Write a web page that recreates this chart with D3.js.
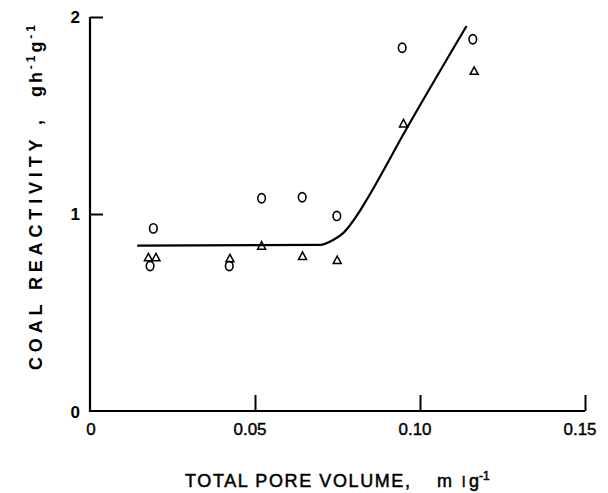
<!DOCTYPE html>
<html><head><meta charset="utf-8">
<script src="https://cdn.jsdelivr.net/npm/d3@7"></script>
<style>body{margin:0;background:#fff}svg{display:block}</style>
</head><body>
<script>
const xTicks = [0, 0.05, 0.10, 0.15];
const xTickLabels = ["0", "0.05", "0.10", "0.15"];
const yTicks = [0, 1, 2];
const yTickLabels = ["0", "1", "2"];
const circleX = [0.0192, 0.0182, 0.0422, 0.0520, 0.0643, 0.0748, 0.0946, 0.1160];
const circleY = [0.927, 0.736, 0.736, 1.080, 1.085, 0.990, 1.844, 1.887];
const triX = [0.0177, 0.0200, 0.0424, 0.0520, 0.0644, 0.0749, 0.0950, 0.1164];
const triY = [0.780, 0.780, 0.775, 0.839, 0.787, 0.766, 1.460, 1.727];
const fitX = [0.0143, 0.0697, 0.0737, 0.0768, 0.0813, 0.0838, 0.0960, 0.1141];
const fitY = [0.839, 0.843, 0.868, 0.904, 1.003, 1.071, 1.435, 1.954];

const W = 608, H = 493;
const svg = d3.select("body").append("svg").attr("width", W).attr("height", H);
const x = d3.scaleLinear().domain([0, 0.15]).range([90, 585]);
const y = d3.scaleLinear().domain([0, 2]).range([411, 17]);
const font = "Liberation Sans, Arial, sans-serif";

// axes
const xAxis = svg.append("g").attr("transform", `translate(0,${y(0)})`)
  .call(d3.axisBottom(x).tickValues(xTicks.slice(1)).tickSize(-16).tickFormat(""));
const yAxis = svg.append("g").attr("transform", `translate(${x(0)},0)`)
  .call(d3.axisLeft(y).tickValues(yTicks.slice(1)).tickSize(-13).tickFormat(""));
[xAxis, yAxis].forEach(a => {
  a.select(".domain").remove();
  a.selectAll("line").attr("stroke", "#000").attr("stroke-width", 2);
});
svg.append("path")
  .attr("d", `M${x(0)},${y(2)}V${y(0)}H${x(0.15)}`)
  .attr("fill", "none").attr("stroke", "#000").attr("stroke-width", 2.2);

// tick labels
svg.append("g").selectAll("text").data(xTicks).join("text")
  .attr("x", (d, i) => x(d) - (i === 0 ? -1 : 5)).attr("y", 435)
  .attr("text-anchor", "middle").attr("font-family", font).attr("font-size", 17)
  .attr("stroke", "#000").attr("stroke-width", 0.4)
  .text((d, i) => xTickLabels[i]);
svg.append("g").selectAll("text").data(yTicks).join("text")
  .attr("x", 80).attr("y", d => y(d) + 6 + (d === 0 ? 1 : 0))
  .attr("text-anchor", "end").attr("font-family", font).attr("font-size", 17).attr("font-weight", "bold")
  .text((d, i) => yTickLabels[i]);

// x title
const xs = { "font-family": font, "stroke": "#000", "stroke-width": 0.5 };
function st(sel) { Object.entries(xs).forEach(([k, v]) => sel.attr(k, v)); return sel; }
st(svg.append("text")).attr("x", 185).attr("y", 487).attr("font-size", 18)
  .attr("textLength", 225).attr("lengthAdjust", "spacing").text("TOTAL PORE VOLUME,");
const xu = st(svg.append("text")).attr("x", 437).attr("y", 487).attr("font-size", 18);
xu.append("tspan").text("m");
xu.append("tspan").attr("x", 462).attr("font-size", 15).text("l");
xu.append("tspan").attr("x", 469).text("g");
xu.append("tspan").attr("dy", -7).attr("font-size", 12).text("-1");

// y title
svg.append("text").attr("transform", "translate(42,370) rotate(-90)")
  .attr("font-family", font).attr("font-size", 18).attr("font-weight", "bold")
  .attr("textLength", 250).attr("lengthAdjust", "spacing").text("COAL REACTIVITY ,");
const yu = svg.append("text").attr("transform", "translate(42,97) rotate(-90)")
  .attr("font-family", font).attr("font-size", 18).attr("font-weight", "bold")
  .attr("textLength", 72).attr("lengthAdjust", "spacing");
yu.append("tspan").text("gh");
yu.append("tspan").attr("dy", -7).attr("font-size", 12).text("-1");
yu.append("tspan").attr("dy", 7).attr("font-size", 18).text("g");
yu.append("tspan").attr("dy", -7).attr("font-size", 12).text("-1");

// fit curve
const pts = fitX.map((v, i) => [v, fitY[i]]);
svg.append("path").datum(pts)
  .attr("d", d3.line().x(d => x(d[0])).y(d => y(d[1])).curve(d3.curveMonotoneX))
  .attr("fill", "none").attr("stroke", "#000").attr("stroke-width", 2.2);

// circles
svg.append("g").selectAll("ellipse").data(circleX.map((v, i) => [v, circleY[i]])).join("ellipse")
  .attr("cx", d => x(d[0])).attr("cy", d => y(d[1])).attr("rx", 3.8).attr("ry", 4.6)
  .attr("fill", "none").attr("stroke", "#000").attr("stroke-width", 1.6);

// triangles
svg.append("g").selectAll("path").data(triX.map((v, i) => [v, triY[i]])).join("path")
  .attr("transform", d => `translate(${x(d[0])},${y(d[1])})`)
  .attr("d", "M0,-4L4,3.5H-4Z")
  .attr("fill", "none").attr("stroke", "#000").attr("stroke-width", 1.5);
</script>
</body></html>
